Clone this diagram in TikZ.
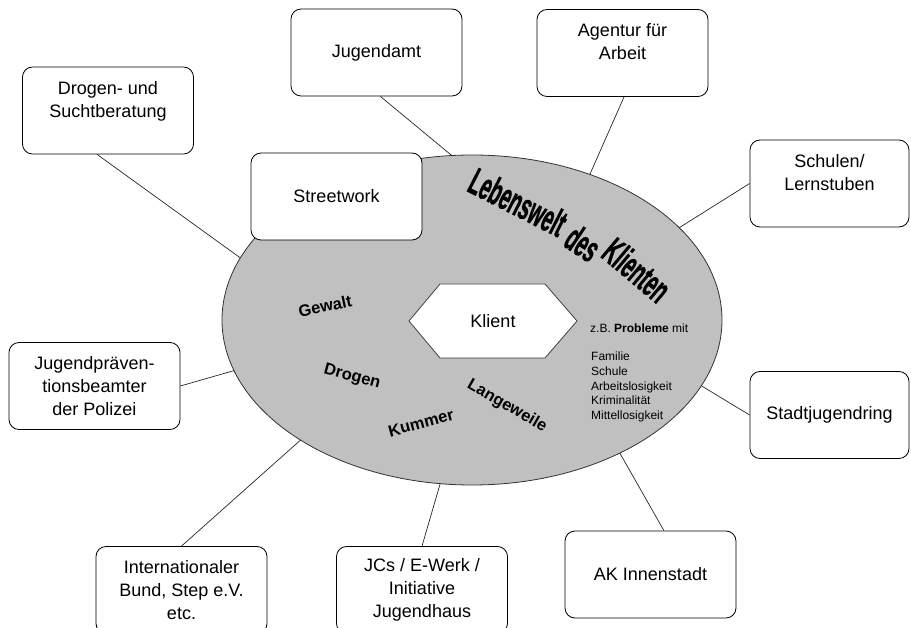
\documentclass[tikz,border=0pt]{standalone}
\usepackage{graphicx}
\usepackage{fontspec}
\setmainfont{Liberation Sans}
\newfontfamily\wafont[FakeBold=1.2]{Liberation Sans}
\usetikzlibrary{shapes.geometric}
\definecolor{ellgray}{RGB}{192,192,192}
\newcommand{\wordartbox}[1]{\scalebox{0.5}[1]{#1}}
\tikzset{
  box/.style={draw=black, line width=0.8pt, rounded corners=10pt, fill=white,
    minimum width=171pt, minimum height=87pt, inner sep=0pt, align=center,
    font=\fontsize{18}{23}\selectfont},
  conn/.style={draw=black!85, line width=0.7pt},
  word/.style={font=\fontsize{16.5}{16.5}\selectfont\bfseries, inner sep=0pt},
  wordart/.style={font=\wafont\bfseries\fontsize{38}{38}\selectfont, inner sep=0pt},
  small/.style={font=\fontsize{12}{14.7}\selectfont, inner sep=0pt, align=left, anchor=west}
}
\begin{document}
\begin{tikzpicture}[x=1pt,y=-1pt]
\useasboundingbox (0,0) rectangle (911,628);
\clip (0,0) rectangle (911,628);
% life world
\node[ellipse, draw=black!80, line width=0.8pt, fill=ellgray, minimum width=500pt,
  minimum height=330pt, inner sep=0pt, outer sep=0pt] (ell) at (472,320) {};
% boxes
\node[box] (drogen) at (108,110.5) {Drogen- und\\Suchtberatung\\~};
\node[box] (jugendamt) at (376.5,52.5) {Jugendamt};
\node[box] (streetwork) at (336.5,196.5) {Streetwork};
\node[box] (agentur) at (622.5,53) {Agentur für\\Arbeit\\~};
\node[box, minimum width=159pt] (schulen) at (829.5,183.5) {Schulen/\\Lernstuben\\~};
\node[box] (praev) at (94.5,386) {Jugendpräven-\\tionsbeamter\\der Polizei};
\node[box, minimum width=159pt] (stadt) at (829.5,415) {Stadtjugendring};
\node[box] (intl) at (181.5,590) {Internationaler\\Bund, Step e.V.\\etc.};
\node[box] (jcs) at (422,590) {JCs / E-Werk /\\Initiative\\Jugendhaus};
\node[box] (ak) at (650.5,574.5) {AK Innenstadt};
% connectors
\draw[conn] (drogen.-104) -- (ell.165);
\draw[conn] (jugendamt.-85) -- (ell.97);
\draw[conn] (agentur.-88) -- (ell.51);
\draw[conn] (schulen.west) -- (ell.24);
\draw[conn] (stadt.west) -- (ell.-16);
\draw[conn] (ak.73) -- (ell.-42);
\draw[conn] (jcs.north) -- (ell.-101);
\draw[conn] (intl.north) -- (ell.-145);
\draw[conn] (praev.east) -- (ell.-168);
% client hexagon
\draw[draw=black!75, line width=0.8pt, fill=white]
  (409,321) -- (440,284) -- (545,284) -- (577,321) -- (545,358) -- (440,358) -- cycle;
\node[inner sep=0pt, font=\fontsize{18}{18}\selectfont] (klient) at (493,321) {Klient};
% words
\node[word, rotate=12] (gewalt) at (325,306) {Gewalt};
\node[word, rotate=-15] (drogenw) at (352,377) {Drogen};
\node[word, rotate=15] (kummer) at (421,423) {Kummer};
\node[word, rotate=-30] (langeweile) at (507,406) {Langeweile};
% problems
\node[small] (zb) at (590,328) {z.B. \textbf{Probleme} mit};
\node[small, anchor=north west] (liste) at (591,352)
  {Familie\\Schule\\Arbeitslosigkeit\\Kriminalität\\Mittellosigkeit};
% word art title
\node[wordart, rotate=-27] (t1) at (518,202) {\wordartbox{Lebenswelt}};
\node[wordart, rotate=-34] (t2) at (583,243) {\wordartbox{des}};
\node[wordart, rotate=-40] (t3) at (637,270) {\wordartbox{Klienten}};
\end{tikzpicture}
\end{document}
